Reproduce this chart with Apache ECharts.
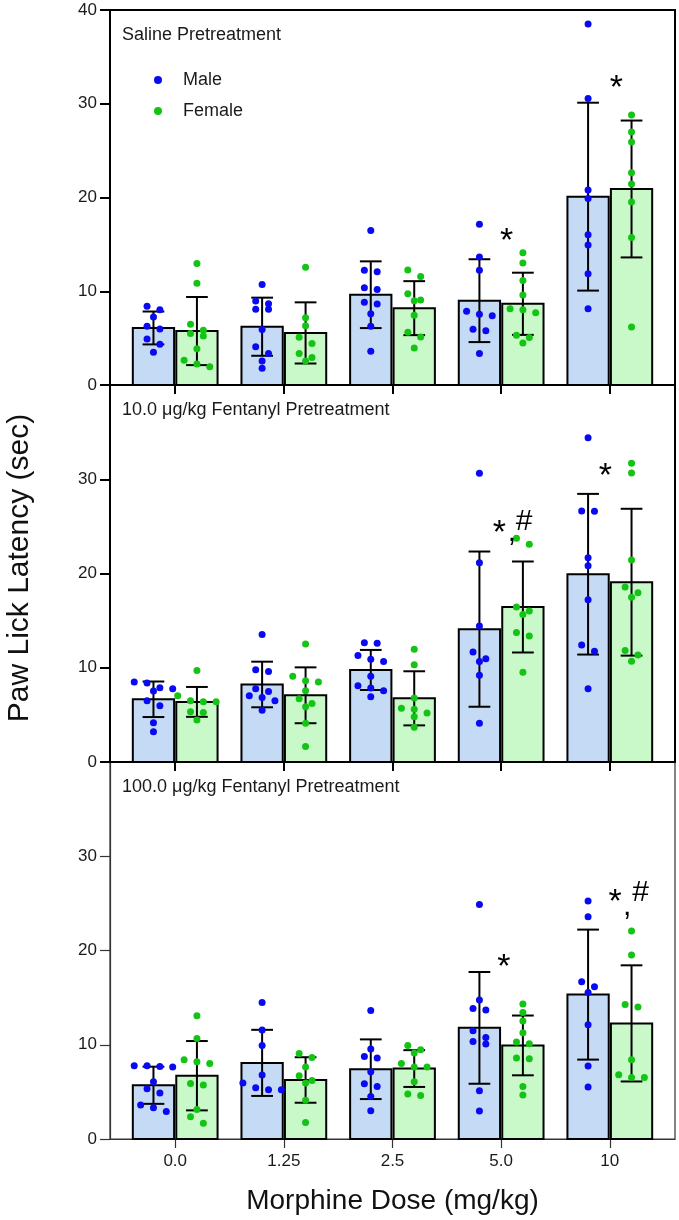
<!DOCTYPE html>
<html><head><meta charset="utf-8">
<script src="https://cdn.jsdelivr.net/npm/echarts@6/dist/echarts.min.js"></script>
<style>html,body{margin:0;padding:0;background:#fff}#c{width:679px;height:1220px}</style>
</head><body><div id="c"></div>
<script>
// ---- data ----
const categories = ['0.0', '1.25', '2.5', '5.0', '10'];
const panelTitles = ['Saline Pretreatment', '10.0 \u03bcg/kg Fentanyl Pretreatment', '100.0 \u03bcg/kg Fentanyl Pretreatment'];
const sexes = ['Male', 'Female'];

const salineMale = [
  [8.03, 8.39, 7.25, 6.26, 5.98, 4.92, 4.35, 3.50],
  [10.72, 8.95, 8.67, 8.07, 8.07, 5.91, 4.07, 3.36, 2.55, 1.80],
  [16.49, 12.24, 12.07, 10.37, 10.19, 8.84, 8.63, 7.61, 6.26, 3.61],
  [17.16, 13.66, 12.24, 7.86, 7.54, 7.40, 5.94, 5.80, 3.36],
  [38.5, 30.57, 20.8, 19.89, 16.03, 14.93, 11.86, 8.14]
];
const salineFemale = [
  [12.95, 10.86, 6.48, 5.84, 5.49, 5.24, 3.86, 2.65, 2.23, 1.95],
  [12.56, 7.18, 6.33, 5.10, 4.42, 3.36, 2.94, 2.55],
  [12.28, 11.57, 9.73, 9.06, 8.99, 7.43, 5.63, 5.13, 3.96],
  [14.12, 13.02, 11.15, 9.59, 8.14, 8.03, 7.71, 5.31, 5.06, 4.49],
  [28.8, 27.0, 25.93, 22.64, 21.44, 19.53, 15.74, 6.19]
];
const fent10Male = [
  [8.49, 8.38, 7.88, 7.78, 7.53, 6.49, 5.96, 4.17, 3.21],
  [13.52, 9.78, 9.59, 7.78, 7.49, 7.03, 6.84, 6.49, 5.50],
  [12.66, 12.59, 11.30, 10.91, 10.66, 9.09, 8.10, 7.85, 7.56, 6.92],
  [30.63, 21.14, 14.44, 11.66, 10.95, 10.66, 9.20, 4.10],
  [34.41, 26.63, 26.6, 21.68, 20.82, 17.22, 12.41, 11.76, 7.78]
];
const fent10Female = [
  [9.70, 7.03, 6.49, 6.39, 6.39, 5.32, 5.24, 4.46],
  [12.51, 9.09, 8.63, 8.49, 7.56, 6.71, 6.20, 5.85, 4.10, 1.64],
  [11.95, 10.31, 6.78, 5.71, 5.60, 5.21, 4.81, 3.68],
  [23.74, 23.10, 16.44, 16.01, 15.66, 13.73, 13.37, 9.52],
  [31.7, 30.66, 21.43, 18.58, 17.97, 17.47, 11.84, 11.34, 10.70]
];
const fent100Male = [
  [7.77, 7.77, 7.70, 7.63, 6.08, 5.33, 4.88, 3.60, 3.32, 2.93],
  [14.49, 11.56, 9.93, 6.79, 5.94, 5.44, 5.23, 5.23],
  [13.64, 9.54, 8.76, 8.59, 7.14, 5.86, 5.58, 4.52, 3.00],
  [24.88, 14.74, 13.85, 13.68, 11.48, 10.77, 10.35, 10.07, 5.12, 2.97],
  [25.24, 23.57, 16.68, 16.15, 15.55, 12.12, 7.74, 5.51]
];
const fent100Female = [
  [13.07, 10.67, 8.41, 8.20, 8.02, 5.90, 5.73, 3.14, 2.36, 1.66],
  [9.08, 8.66, 7.63, 6.71, 6.22, 5.94, 4.10, 1.76],
  [9.93, 9.47, 9.12, 8.02, 7.63, 7.63, 6.08, 4.77, 4.62],
  [14.32, 13.43, 12.51, 11.27, 10.29, 10.11, 8.59, 8.52, 5.58, 4.67],
  [22.06, 19.51, 14.27, 14.00, 8.41, 6.82, 6.53, 6.53]
];
// significance marks (panel, category, glyph)
const marks = [
  [0, 3, '*'], [0, 4, '*'],
  [1, 3, '*'], [1, 3, ','], [1, 3, '#'], [1, 4, '*'],
  [2, 3, '*'], [2, 4, '*'], [2, 4, ','], [2, 4, '#']
];

// ---- layout / style ----
const FONT = "'Liberation Sans', Arial, Helvetica, sans-serif";
const panels = [[salineMale, salineFemale], [fent10Male, fent10Female], [fent100Male, fent100Female]];
const gridTops = [10, 385, 762];
const gridHeights = [375, 377, 377];
const lineW = [2, 2, 1.2];
const barFill = ['#c5daf4', '#c9f9c9'];
const dotColor = ['#0a0af2', '#14c414'];
const sexOffset = [-0.2, 0.2];
const BAR_HALF = 0.19, CAP_HALF = 0.1;
const DOT_SPACING = 0.118, ROW_THRESH = 0.72;
// anchor placement of significance marks (x shift from category, y in axis units)
const markPlacement = [
  [0.05, 16.1], [0.06, 32.5],
  [-0.016, 25.1], [0.10, 23.3], [0.21, 25.7], [-0.04, 31.1],
  [0.024, 19.0], [0.05, 25.9], [0.16, 23.6], [0.284, 26.3]
];
const glyphSize = {'*': 34, ',': 30, '#': 30};
const glyphDy = {'*': 0.23, ',': -0.33, '#': 0.06};

function mean(a) { return a.reduce((s, v) => s + v, 0) / a.length; }
function sd(a) { const m = mean(a); return Math.sqrt(a.reduce((s, v) => s + (v - m) * (v - m), 0) / (a.length - 1)); }
function swarm(vals, center) {
  const s = vals.slice().sort((a, b) => b - a);
  const out = [];
  let i = 0;
  while (i < s.length) {
    let j = i + 1;
    while (j < s.length && s[i] - s[j] < ROW_THRESH) j++;
    const n = j - i;
    for (let k = 0; k < n; k++) out.push([center + (k - (n - 1) / 2) * DOT_SPACING, s[i + k]]);
    i = j;
  }
  return out;
}

const grids = [], xAxes = [], yAxes = [], series = [], titles = [];
panels.forEach((pair, p) => {
  const lw = lineW[p];
  const axisColor = p === 2 ? '#333' : '#000';
  grids.push({left: 110, right: 4, top: gridTops[p], height: gridHeights[p], show: true,
    borderColor: axisColor, borderWidth: lw, backgroundColor: 'transparent'});
  xAxes.push({gridIndex: p, type: 'value', min: -0.6, max: 4.6,
    splitLine: {show: false},
    axisLine: {show: true, onZero: false, lineStyle: {color: axisColor, width: lw}},
    axisTick: {show: true, length: 9, customValues: [0, 1, 2, 3, 4], lineStyle: {color: axisColor, width: lw}},
    axisLabel: {show: p === 2, customValues: [0, 1, 2, 3, 4], formatter: v => categories[Math.round(v)],
      fontSize: 17, fontFamily: FONT, color: '#1a1a1a', margin: 14},
    name: p === 2 ? 'Morphine Dose (mg/kg)' : '', nameLocation: 'middle', nameGap: 48,
    nameTextStyle: {fontSize: 28, fontFamily: FONT, color: '#111'}});
  yAxes.push({gridIndex: p, type: 'value', min: 0, max: 40, interval: 10,
    splitLine: {show: false},
    axisLine: {show: true, onZero: false, lineStyle: {color: axisColor, width: lw}},
    axisTick: {show: true, length: 10, lineStyle: {color: axisColor, width: lw}},
    axisLabel: {fontSize: 17, fontFamily: FONT, color: '#1a1a1a', margin: 13, showMaxLabel: p === 0}});
  titles.push({text: panelTitles[p], left: 122, top: gridTops[p] + 16, padding: 0,
    textStyle: {fontSize: 18, fontWeight: 'normal', fontFamily: FONT, color: '#1a1a1a'}});

  pair.forEach((groups, s) => {
    const off = sexOffset[s];
    // bars
    series.push({type: 'custom', name: sexes[s] + ' mean ' + p, xAxisIndex: p, yAxisIndex: p, z: 2,
      data: groups.map((g, i) => [i, mean(g), sd(g)]),
      renderItem: (params, api) => {
        const c = api.value(0), m = api.value(1);
        const a = api.coord([c + off - BAR_HALF, m]);
        const b = api.coord([c + off + BAR_HALF, 0]);
        return {type: 'rect', shape: {x: a[0], y: a[1], width: b[0] - a[0], height: b[1] - a[1]},
          style: {fill: barFill[s], stroke: '#000', lineWidth: 2}};
      }});
    // error bars (mean ± SD)
    series.push({type: 'custom', name: sexes[s] + ' sd ' + p, xAxisIndex: p, yAxisIndex: p, z: 3,
      data: groups.map((g, i) => [i, mean(g), sd(g)]),
      renderItem: (params, api) => {
        const c = api.value(0) + off, m = api.value(1), e = api.value(2);
        const top = api.coord([c, m + e]), bot = api.coord([c, m - e]);
        const l = api.coord([c - CAP_HALF, m])[0], r = api.coord([c + CAP_HALF, m])[0];
        const st = {stroke: '#000', lineWidth: 2};
        return {type: 'group', children: [
          {type: 'line', shape: {x1: top[0], y1: top[1], x2: bot[0], y2: bot[1]}, style: st},
          {type: 'line', shape: {x1: l, y1: top[1], x2: r, y2: top[1]}, style: st},
          {type: 'line', shape: {x1: l, y1: bot[1], x2: r, y2: bot[1]}, style: st}
        ]};
      }});
    // individual animals
    const pts = [];
    groups.forEach((g, i) => swarm(g, i + off).forEach(pt => pts.push(pt)));
    series.push({type: 'scatter', name: sexes[s], xAxisIndex: p, yAxisIndex: p, z: 4,
      symbol: 'circle', symbolSize: 7, itemStyle: {color: dotColor[s], opacity: 1},
      data: pts});
  });

  // significance marks
  const pm = [];
  marks.forEach((mk, k) => { if (mk[0] === p) pm.push({value: [mk[1] + markPlacement[k][0], markPlacement[k][1]], glyph: mk[2]}); });
  series.push({type: 'custom', name: 'marks ' + p, xAxisIndex: p, yAxisIndex: p, z: 5,
    data: pm.map(d => d.value),
    renderItem: (params, api) => {
      const g = pm[params.dataIndex].glyph;
      const pt = api.coord([api.value(0), api.value(1)]);
      const fs = glyphSize[g];
      return {type: 'text', x: pt[0], y: pt[1] + glyphDy[g] * fs,
        style: {text: g, fontSize: fs, fontFamily: FONT, fill: '#000', align: 'center', verticalAlign: 'middle'}};
    }});
});

const chart = echarts.init(document.getElementById('c'), null, {renderer: 'canvas'});
chart.setOption({
  animation: false,
  backgroundColor: '#fff',
  title: titles,
  legend: {data: [{name: 'Male', icon: 'circle'}, {name: 'Female', icon: 'circle'}],
    orient: 'vertical', left: 149, top: 65, itemWidth: 8, itemHeight: 8, itemGap: 11,
    selectedMode: false,
    textStyle: {fontSize: 18, fontFamily: FONT, color: '#1a1a1a', lineHeight: 20, padding: [0, 0, 0, 16]}},
  grid: grids, xAxis: xAxes, yAxis: yAxes, series: series,
  graphic: [{type: 'text', x: 20, y: 568, rotation: Math.PI / 2,
    style: {text: 'Paw Lick Latency (sec)', fontSize: 30, fontFamily: FONT, fill: '#111',
      align: 'center', verticalAlign: 'middle'}}]
});
</script></body></html>
